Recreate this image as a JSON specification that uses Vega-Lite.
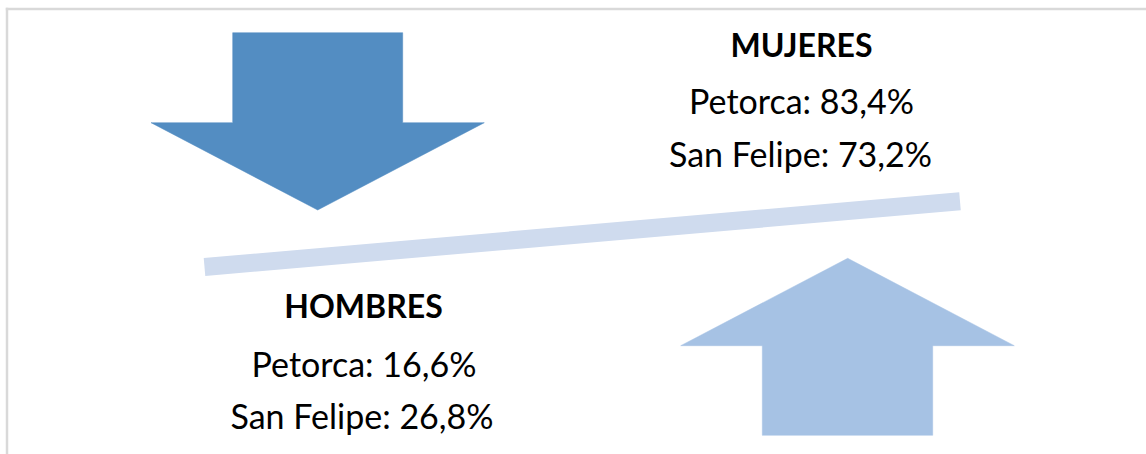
{
  "$schema": "https://vega.github.io/schema/vega-lite/v6.json",
  "width": 1146,
  "height": 454,
  "autosize": {"type": "fit", "contains": "padding"},
  "padding": 0,
  "background": "white",
  "config": {"view": {"stroke": null}},
  "datasets": {
    "frame": [
      {"x": 5.8, "x2": 1146, "y": 9, "y2": 9},
      {"x": 7, "x2": 7, "y": 7.8, "y2": 454}
    ],
    "down": [
      {"i": 1, "x": 232.7, "y": 32.7},
      {"i": 2, "x": 402.7, "y": 32.7},
      {"i": 3, "x": 402.7, "y": 122.7},
      {"i": 4, "x": 484.3, "y": 122.7},
      {"i": 5, "x": 317.7, "y": 210},
      {"i": 6, "x": 151, "y": 122.7},
      {"i": 7, "x": 232.7, "y": 122.7}
    ],
    "up": [
      {"i": 1, "x": 847.7, "y": 258.3},
      {"i": 2, "x": 1014.3, "y": 345.7},
      {"i": 3, "x": 932.7, "y": 345.7},
      {"i": 4, "x": 932.7, "y": 435.3},
      {"i": 5, "x": 762.3, "y": 435.3},
      {"i": 6, "x": 762.3, "y": 345.7},
      {"i": 7, "x": 680.7, "y": 345.7}
    ],
    "beam": [{"x": 204.5, "y": 267, "x2": 960, "y2": 201.3}],
    "titles": [
      {"label": "MUJERES", "x": 801.5, "y": 56.7},
      {"label": "HOMBRES", "x": 363.5, "y": 318}
    ],
    "lines": [
      {"label": "Petorca: 83,4%", "x": 801.5, "y": 114.3},
      {"label": "San Felipe: 73,2%", "x": 800.5, "y": 166.7},
      {"label": "Petorca: 16,6%", "x": 364, "y": 376.7},
      {"label": "San Felipe: 26,8%", "x": 362, "y": 429.3}
    ]
  },
  "layer": [
    {
      "data": {"name": "frame"},
      "mark": {"type": "rule", "stroke": "#d9d9d9", "strokeWidth": 2.5, "strokeCap": "butt", "clip": true},
      "encoding": {
        "x": {"field": "x", "type": "quantitative", "scale": {"domain": [0, 1146], "nice": false, "zero": false}, "axis": null},
        "x2": {"field": "x2"},
        "y": {"field": "y", "type": "quantitative", "scale": {"domain": [0, 454], "nice": false, "zero": false, "reverse": true}, "axis": null},
        "y2": {"field": "y2"}
      }
    },
    {
      "data": {"name": "down"},
      "mark": {"type": "line", "interpolate": "linear-closed", "fill": "#538dc2", "stroke": "#538dc2", "strokeWidth": 0.5},
      "encoding": {
        "x": {"field": "x", "type": "quantitative", "scale": {"domain": [0, 1146], "nice": false, "zero": false}, "axis": null},
        "y": {"field": "y", "type": "quantitative", "scale": {"domain": [0, 454], "nice": false, "zero": false, "reverse": true}, "axis": null},
        "order": {"field": "i", "type": "quantitative"}
      }
    },
    {
      "data": {"name": "up"},
      "mark": {"type": "line", "interpolate": "linear-closed", "fill": "#a6c2e4", "stroke": "#a6c2e4", "strokeWidth": 0.5},
      "encoding": {
        "x": {"field": "x", "type": "quantitative", "scale": {"domain": [0, 1146], "nice": false, "zero": false}, "axis": null},
        "y": {"field": "y", "type": "quantitative", "scale": {"domain": [0, 454], "nice": false, "zero": false, "reverse": true}, "axis": null},
        "order": {"field": "i", "type": "quantitative"}
      }
    },
    {
      "data": {"name": "beam"},
      "mark": {"type": "rule", "stroke": "#cfdbee", "strokeWidth": 18, "strokeCap": "butt"},
      "encoding": {
        "x": {"field": "x", "type": "quantitative", "scale": {"domain": [0, 1146], "nice": false, "zero": false}, "axis": null},
        "x2": {"field": "x2"},
        "y": {"field": "y", "type": "quantitative", "scale": {"domain": [0, 454], "nice": false, "zero": false, "reverse": true}, "axis": null},
        "y2": {"field": "y2"}
      }
    },
    {
      "data": {"name": "titles"},
      "mark": {"type": "text", "font": "Lato", "fontWeight": "bold", "fontSize": 32, "align": "center", "baseline": "alphabetic", "color": "#000000"},
      "encoding": {
        "x": {"field": "x", "type": "quantitative", "scale": {"domain": [0, 1146], "nice": false, "zero": false}, "axis": null},
        "y": {"field": "y", "type": "quantitative", "scale": {"domain": [0, 454], "nice": false, "zero": false, "reverse": true}, "axis": null},
        "text": {"field": "label"}
      }
    },
    {
      "data": {"name": "lines"},
      "mark": {"type": "text", "font": "Lato", "fontSize": 34, "align": "center", "baseline": "alphabetic", "color": "#000000"},
      "encoding": {
        "x": {"field": "x", "type": "quantitative", "scale": {"domain": [0, 1146], "nice": false, "zero": false}, "axis": null},
        "y": {"field": "y", "type": "quantitative", "scale": {"domain": [0, 454], "nice": false, "zero": false, "reverse": true}, "axis": null},
        "text": {"field": "label"}
      }
    }
  ]
}
